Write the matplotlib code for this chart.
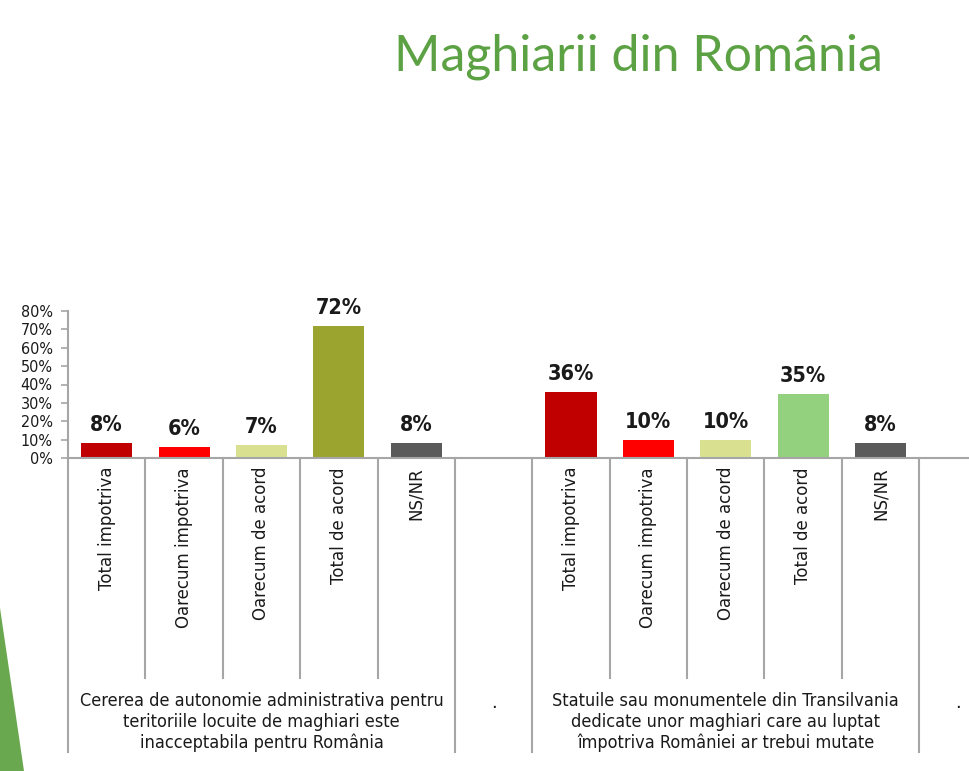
import matplotlib
matplotlib.use('Agg')
import matplotlib.pyplot as plt
from matplotlib.transforms import blended_transform_factory
from matplotlib.patches import Polygon

# data
categories = ['Total impotriva', 'Oarecum impotriva', 'Oarecum de acord',
              'Total de acord', 'NS/NR']
autonomie = [8, 6, 7, 72, 8]
statui = [36, 10, 10, 35, 8]
group_labels = [
    'Cererea de autonomie administrativa pentru\nteritoriile locuite de maghiari este\ninacceptabila pentru România',
    'Statuile sau monumentele din Transilvania\ndedicate unor maghiari care au luptat\nîmpotriva României ar trebui mutate',
]
spacer_label = '.'
yticks = [0, 10, 20, 30, 40, 50, 60, 70, 80]
title = 'Maghiarii din România'

colors_1 = ['#C00000', '#FF0000', '#D9E191', '#9BA42F', '#5A5A5A']
colors_2 = ['#C00000', '#FF0000', '#D9E191', '#93D17E', '#5A5A5A']

W, H = 970, 771
TXT = '#1a1a1a'
GRID = '#a6a6a6'


def fy(px):
    return 1 - px / H


fig = plt.figure(figsize=(W / 100, H / 100), dpi=100)
fig.patch.set_facecolor('white')

# green decoration on left edge
fig.patches.append(Polygon([(0, fy(608)), (24 / W, 0), (0, 0)], closed=True,
                           transform=fig.transFigure, facecolor='#6aa84f',
                           edgecolor='none'))

fig.text(394 / W, fy(70), title, fontsize=36, color='#5ca244',
         family=['Lato', 'DejaVu Sans'], va='baseline', ha='left')

ax = fig.add_axes([68 / W, fy(458), 928.6 / W, (458 - 311) / H])
ax.set_xlim(-0.5, 11.5)
ax.set_ylim(0, 80)

x1 = list(range(0, 5))
x2 = list(range(6, 11))
ax.bar(x1, autonomie, width=0.66, color=colors_1)
ax.bar(x2, statui, width=0.66, color=colors_2)

for xs, vals in ((x1, autonomie), (x2, statui)):
    for x, v in zip(xs, vals):
        ax.annotate(f'{v}%', (x, v), xytext=(0, 8.6), textcoords='offset points',
                    ha='center', va='baseline', fontsize=15.5, color=TXT,
                    family='DejaVu Sans', fontstretch='condensed',
                    fontweight='bold')

ax.set_yticks(yticks)
ax.set_yticklabels([f'{t}%' for t in yticks], family='DejaVu Sans',
                   fontstretch='condensed', fontsize=11.5, color=TXT)
ax.tick_params(axis='y', length=5, width=1.2, color=GRID, pad=6)
ax.set_xticks([])
for s in ('top', 'right'):
    ax.spines[s].set_visible(False)
for s in ('left', 'bottom'):
    ax.spines[s].set_color(GRID)
    ax.spines[s].set_linewidth(1.5)

tr = blended_transform_factory(ax.transData, fig.transFigure)

# category separators
for b in [-0.5, 4.5, 5.5, 10.5, 11.5]:
    ax.plot([b, b], [fy(458), fy(752)], transform=tr, color=GRID, lw=1.5,
            clip_on=False)
for b in [0.5, 1.5, 2.5, 3.5, 6.5, 7.5, 8.5, 9.5]:
    ax.plot([b, b], [fy(458), fy(678)], transform=tr, color=GRID, lw=1.5,
            clip_on=False)

# category labels
for xs in (x1, x2):
    for x, c in zip(xs, categories):
        ax.text(x, fy(467), c, transform=tr, rotation=90, ha='center', va='top',
                fontsize=12, color=TXT, family='DejaVu Sans')

# group labels
for gx, g in zip([2, 8], group_labels):
    ax.text(gx, fy(692), g, transform=tr, ha='center', va='top',
            multialignment='center', fontsize=13, color=TXT,
            family='DejaVu Sans', fontstretch='condensed', linespacing=1.2)
for sx in [5, 11]:
    ax.text(sx, fy(708), spacer_label, transform=tr, ha='center', va='baseline',
            fontsize=13, color=TXT)

fig.savefig('out.png', dpi=100, facecolor='white')
